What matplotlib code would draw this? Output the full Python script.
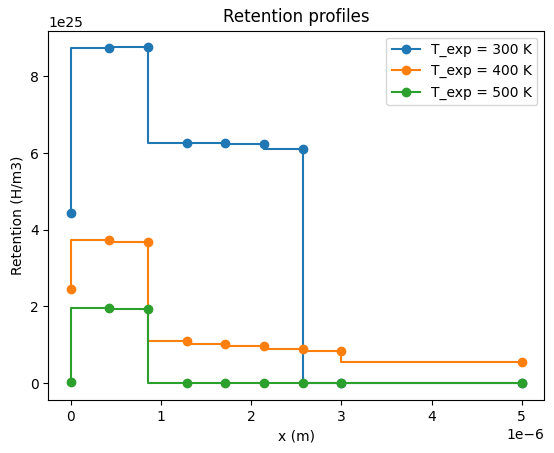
import numpy as np
import matplotlib
matplotlib.use('Agg')
import matplotlib.pyplot as plt

# positions of the mesh points (m)
x = np.array([0, 3/7, 6/7, 9/7, 12/7, 15/7, 18/7, 3, 5]) * 1e-6

# retention values (H/m3) for each temperature
ret_300 = np.array([4.43, 8.73, 8.75, 6.25, 6.25, 6.23, 6.10, 0.0, 0.0]) * 1e25
ret_400 = np.array([2.45, 3.72, 3.67, 1.10, 1.02, 0.97, 0.885, 0.84, 0.55]) * 1e25
ret_500 = np.array([0.03, 1.95, 1.93, 0.0, 0.0, 0.0, 0.0, 0.0, 0.0]) * 1e25

temps = [300, 400, 500]
profiles = [ret_300, ret_400, ret_500]

fig, ax = plt.subplots(figsize=(5.54, 4.53), dpi=100)
plt.subplots_adjust(left=48.3/554, right=544.3/554, top=1-30.7/453, bottom=1-400/453)

for T, r in zip(temps, profiles):
    ax.plot(x, r, marker='o', drawstyle='steps-pre', label='T_exp = {} K'.format(T))

ax.set_xlabel('x (m)')
ax.set_ylabel('Retention (H/m3)')
ax.set_title('Retention profiles')
ax.legend()

plt.savefig('out.png')
